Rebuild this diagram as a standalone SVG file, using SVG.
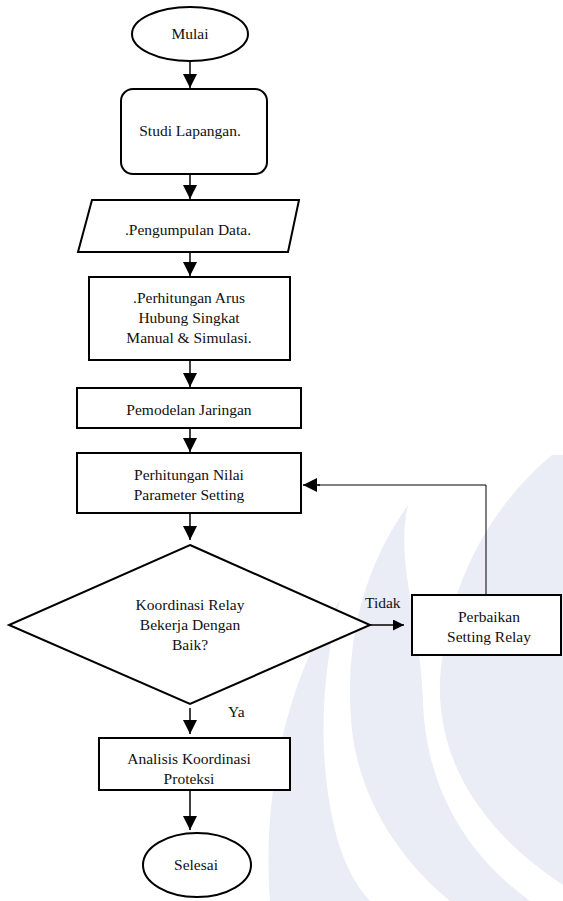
<svg xmlns="http://www.w3.org/2000/svg" width="563" height="901" viewBox="0 0 563 901" font-family="Liberation Serif, Times New Roman, serif" font-size="15.5">
<defs>
<style>
.bg{fill:#ffffff}
.wm{fill:#eaecf6;stroke:none}
.shape{fill:#ffffff;stroke:#000000;stroke-width:2}
.conn{fill:none;stroke:#000000;stroke-width:1.5}
.thin{fill:none;stroke:#000000;stroke-width:1}
.lbl{text-anchor:middle;fill:#111111}
.lbl-l{text-anchor:start;fill:#111111}
</style>
<marker id="ah" viewBox="0 0 10 10" refX="10" refY="5" markerWidth="11" markerHeight="11" markerUnits="userSpaceOnUse" orient="auto">
<path d="M0,0 L10,5 L0,10 Z" fill="#000000"/>
</marker>
<marker id="ahv" viewBox="0 0 14 14" refX="14" refY="7" markerWidth="14" markerHeight="14" markerUnits="userSpaceOnUse" orient="auto">
<path d="M0,0 L14,7 L0,14 Z" fill="#000000"/>
</marker>
</defs>
<rect class="bg" x="0" y="0" width="563" height="901"/>
<g id="watermark">
<path class="wm" d="M270,901 C262,800 285,680 340,600 C320,680 318,760 335,830 C342,860 355,885 370,901 Z"/>
<path class="wm" d="M408,505 C355,580 345,660 352,730 C360,800 400,860 450,901 L530,901 C460,850 425,780 423,700 C420,620 395,560 408,505 Z"/>
<path class="wm" d="M552,455 C480,515 445,600 440,680 C437,760 480,830 563,885 L563,455 Z"/>
</g>
<g id="connectors">
<line class="conn" x1="190" y1="61" x2="190" y2="88" marker-end="url(#ahv)"/>
<line class="conn" x1="190" y1="174" x2="190" y2="199" marker-end="url(#ahv)"/>
<line class="conn" x1="190" y1="252" x2="190" y2="276" marker-end="url(#ahv)"/>
<line class="conn" x1="190" y1="360" x2="190" y2="387" marker-end="url(#ahv)"/>
<line class="conn" x1="190" y1="428" x2="190" y2="452" marker-end="url(#ahv)"/>
<line class="conn" x1="190" y1="513" x2="190" y2="540" marker-end="url(#ahv)"/>
<line class="conn" x1="190" y1="708" x2="190" y2="734" marker-end="url(#ahv)"/>
<line class="conn" x1="190" y1="790" x2="190" y2="830" marker-end="url(#ahv)"/>
<line class="conn" x1="370" y1="625" x2="404" y2="625" marker-end="url(#ah)"/>
<polyline class="thin" points="486,595 486,485 318,485"/>
<line class="conn" x1="320" y1="485" x2="303" y2="485" marker-end="url(#ahv)"/>
<text class="lbl-l" x="365" y="608">Tidak</text>
<text class="lbl-l" x="228" y="717">Ya</text>
</g>
<g id="mulai">
<ellipse class="shape" cx="190" cy="34" rx="58" ry="27"/>
<text class="lbl" x="190" y="39">Mulai</text>
</g>
<g id="studi">
<rect class="shape" x="121" y="89" width="146" height="85" rx="12" ry="12"/>
<text class="lbl" x="190" y="136">Studi Lapangan.</text>
</g>
<g id="pengumpulan">
<polygon class="shape" points="92,200 299,200 288,252 78,252"/>
<text class="lbl" x="188" y="235">.Pengumpulan Data.</text>
</g>
<g id="hubung">
<rect class="shape" x="89" y="277" width="201" height="83"/>
<text class="lbl" x="189" y="303">.Perhitungan Arus</text>
<text class="lbl" x="189" y="323">Hubung Singkat</text>
<text class="lbl" x="189" y="343">Manual &amp; Simulasi.</text>
</g>
<g id="pemodelan">
<rect class="shape" x="77" y="388" width="224" height="40"/>
<text class="lbl" x="189" y="415">Pemodelan Jaringan</text>
</g>
<g id="parameter">
<rect class="shape" x="77" y="453" width="224" height="60"/>
<text class="lbl" x="189" y="480">Perhitungan Nilai</text>
<text class="lbl" x="189" y="500">Parameter Setting</text>
</g>
<g id="keputusan">
<polygon class="shape" points="190,545 370,625 190,704 9,625"/>
<text class="lbl" x="190" y="610">Koordinasi Relay</text>
<text class="lbl" x="190" y="630">Bekerja Dengan</text>
<text class="lbl" x="190" y="650">Baik?</text>
</g>
<g id="perbaikan">
<rect class="shape" x="412" y="595" width="149" height="60"/>
<text class="lbl" x="489" y="622">Perbaikan</text>
<text class="lbl" x="489" y="642">Setting Relay</text>
</g>
<g id="analisis">
<rect class="shape" x="99" y="738" width="191" height="52"/>
<text class="lbl" x="189" y="764">Analisis Koordinasi</text>
<text class="lbl" x="189" y="784">Proteksi</text>
</g>
<g id="selesai">
<ellipse class="shape" cx="197" cy="865" rx="54" ry="32"/>
<text class="lbl" x="196" y="870">Selesai</text>
</g>
</svg>
